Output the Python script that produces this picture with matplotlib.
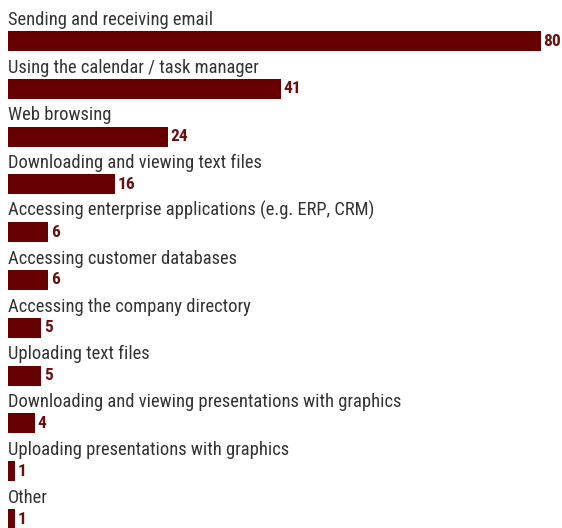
import matplotlib
matplotlib.use('Agg')
import matplotlib.pyplot as plt
import numpy as np

# Share of respondents per mobile activity
activities = [
    'Sending and receiving email',
    'Using the calendar / task manager',
    'Web browsing',
    'Downloading and viewing text files',
    'Accessing enterprise applications (e.g. ERP, CRM)',
    'Accessing customer databases',
    'Accessing the company directory',
    'Uploading text files',
    'Downloading and viewing presentations with graphics',
    'Uploading presentations with graphics',
    'Other',
]
values = [80, 41, 24, 16, 6, 6, 5, 5, 4, 1, 1]

bar_color = '#660000'
text_color = '#333333'
plt.rcParams['font.family'] = ['Roboto Condensed', 'Liberation Sans Narrow', 'Lato', 'DejaVu Sans']

W, H = 562, 528
fig = plt.figure(figsize=(W / 100, H / 100), dpi=100)
ax = fig.add_axes([8 / W, 0, 1 - 8 / W, 1])

row_px = 47.8
first_center = 41
px_per_unit = 6.66
y = np.arange(len(values))

ax.barh(y, values, height=20 / row_px, color=bar_color, left=0)
ax.set_xlim(0, (W - 8) / px_per_unit)
ax.set_ylim((H - first_center) / row_px, -first_center / row_px)
ax.axis('off')

for i, (name, v) in enumerate(zip(activities, values)):
    ax.annotate(name, (0, i - 10 / row_px), xytext=(0, 4.5),
                textcoords='offset points', ha='left', va='baseline',
                fontsize=13.3, color=text_color)
    ax.annotate(str(v), (v, i), xytext=(2, 0), textcoords='offset points',
                ha='left', va='center', fontsize=12.5, fontweight='bold',
                color='#6b0f0f')

fig.savefig('out.png', dpi=100)
